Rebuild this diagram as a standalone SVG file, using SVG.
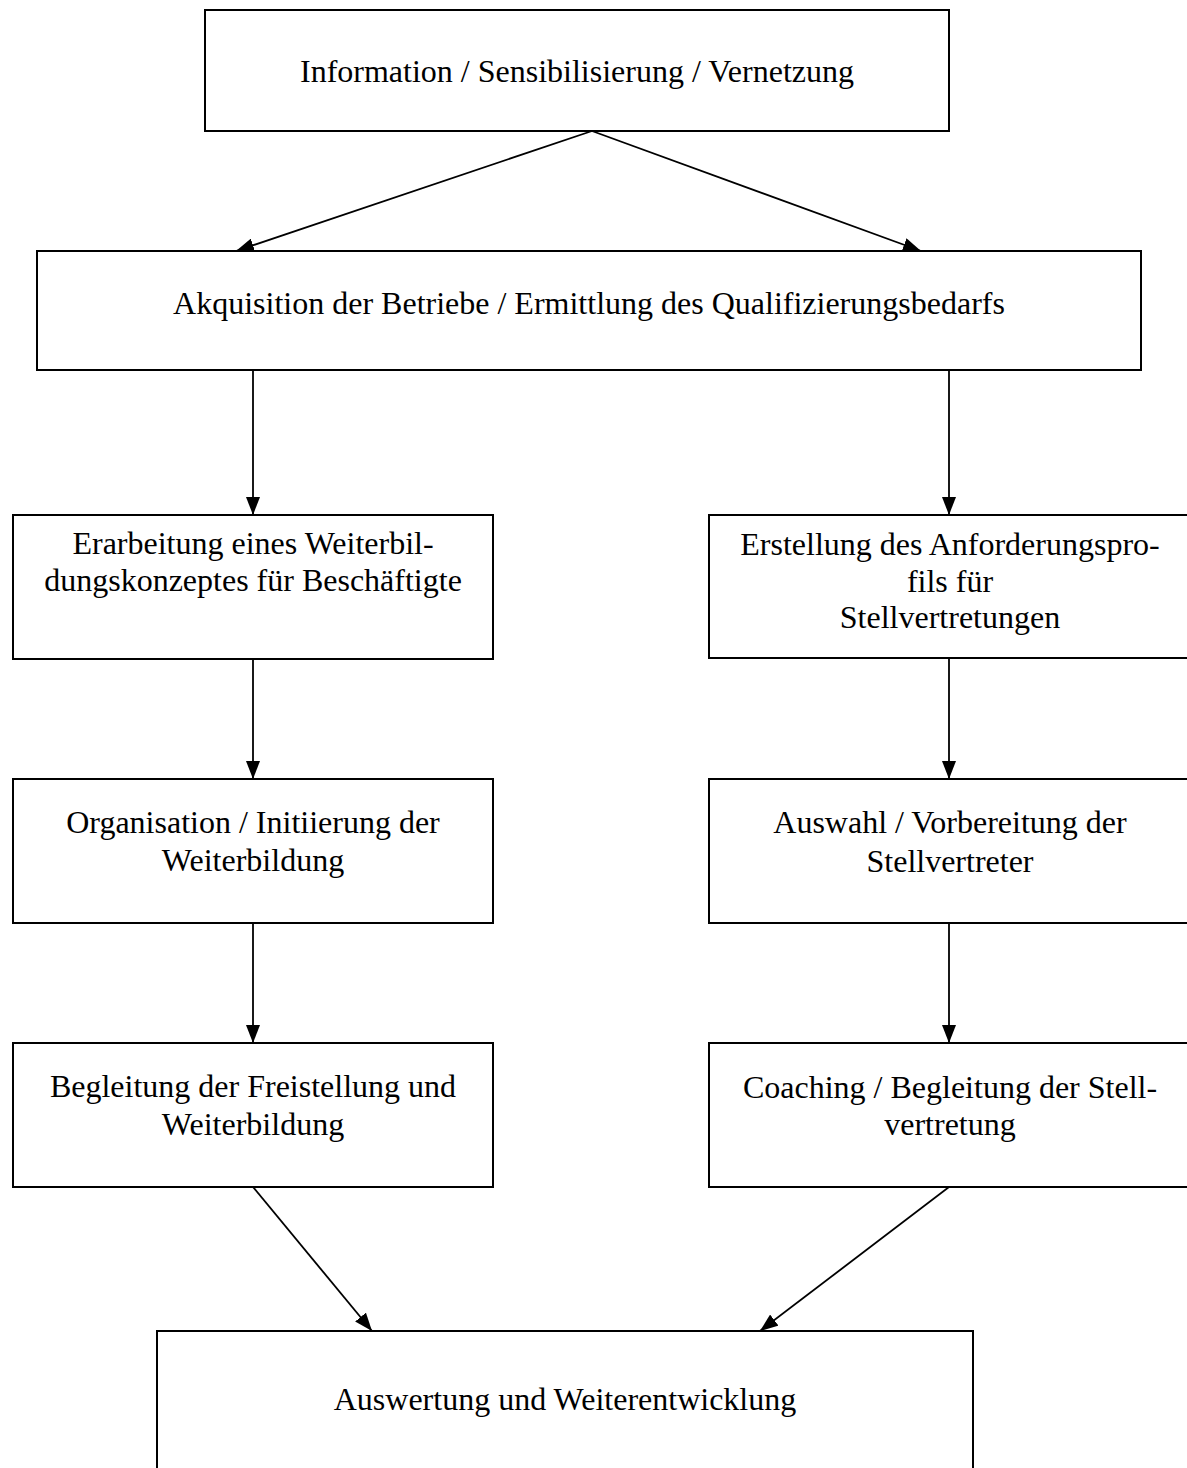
<svg xmlns="http://www.w3.org/2000/svg" width="1187" height="1468" viewBox="0 0 1187 1468">
<style>
.box{fill:#fff;stroke:#000;stroke-width:2}
.t{font-family:"Liberation Serif","Times New Roman",serif;font-size:32px;fill:#000;text-anchor:middle}
.c{stroke:#000;stroke-width:1.8;fill:none;marker-end:url(#ah)}
</style>
<defs>
<marker id="ah" markerUnits="userSpaceOnUse" markerWidth="18" markerHeight="14" viewBox="0 0 18 14" refX="18" refY="7" orient="auto">
<path d="M0,0 L18,7 L0,14 z" fill="#000"/>
</marker>
</defs>
<rect width="1187" height="1468" fill="#fff"/>
<g id="n1"><rect class="box" x="205" y="10" width="744" height="121"/><text class="t" x="577" y="82">Information / Sensibilisierung / Vernetzung</text></g>
<g id="n2"><rect class="box" x="37" y="251" width="1104" height="119"/><text class="t" x="589" y="314">Akquisition der Betriebe / Ermittlung des Qualifizierungsbedarfs</text></g>
<g id="n3"><rect class="box" x="13" y="515" width="480" height="144"/><text class="t" x="253" y="554">Erarbeitung eines Weiterbil-</text><text class="t" x="253" y="591">dungskonzeptes für Beschäftigte</text></g>
<g id="n4"><rect class="box" x="709" y="515" width="481" height="143"/><text class="t" x="950" y="555">Erstellung des Anforderungspro-</text><text class="t" x="950" y="592">fils für</text><text class="t" x="950" y="628">Stellvertretungen</text></g>
<g id="n5"><rect class="box" x="13" y="779" width="480" height="144"/><text class="t" x="253" y="833">Organisation / Initiierung der</text><text class="t" x="253" y="871">Weiterbildung</text></g>
<g id="n6"><rect class="box" x="709" y="779" width="481" height="144"/><text class="t" x="950" y="833">Auswahl / Vorbereitung der</text><text class="t" x="950" y="872">Stellvertreter</text></g>
<g id="n7"><rect class="box" x="13" y="1043" width="480" height="144"/><text class="t" x="253" y="1097">Begleitung der Freistellung und</text><text class="t" x="253" y="1135">Weiterbildung</text></g>
<g id="n8"><rect class="box" x="709" y="1043" width="481" height="144"/><text class="t" x="950" y="1098">Coaching / Begleitung der Stell-</text><text class="t" x="950" y="1135">vertretung</text></g>
<g id="n9"><rect class="box" x="157" y="1331" width="816" height="160"/><text class="t" x="565" y="1410">Auswertung und Weiterentwicklung</text></g>
<g id="connectors">
<line class="c" x1="592" y1="131" x2="236" y2="251"/>
<line class="c" x1="592" y1="131" x2="921" y2="251"/>
<line class="c" x1="253" y1="370" x2="253" y2="515"/>
<line class="c" x1="949" y1="370" x2="949" y2="515"/>
<line class="c" x1="253" y1="659" x2="253" y2="779"/>
<line class="c" x1="949" y1="658" x2="949" y2="779"/>
<line class="c" x1="253" y1="923" x2="253" y2="1043"/>
<line class="c" x1="949" y1="923" x2="949" y2="1043"/>
<line class="c" x1="253" y1="1187" x2="372" y2="1331"/>
<line class="c" x1="949" y1="1187" x2="760" y2="1331"/>
</g>
</svg>
